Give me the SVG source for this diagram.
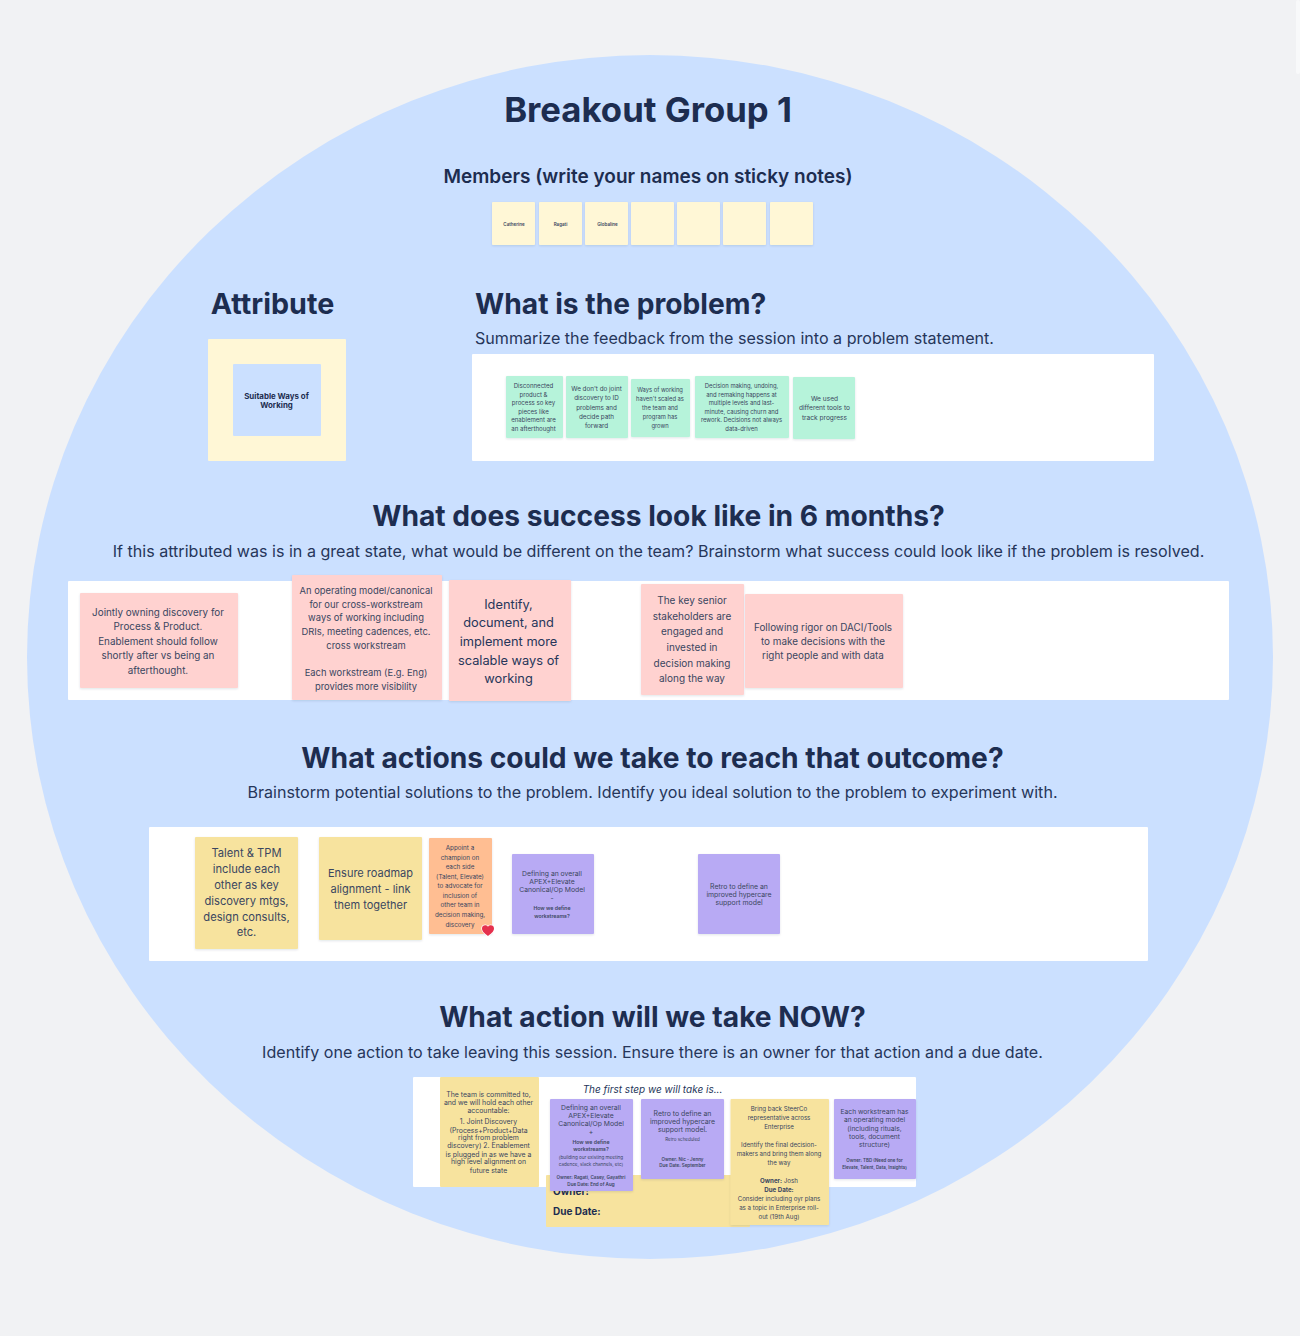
<svg xmlns="http://www.w3.org/2000/svg" width="1300" height="1336" viewBox="0 0 1300 1336">
<defs>
<style>
text{font-family:Inter,"Liberation Sans",sans-serif;fill:#1d2d50;text-anchor:middle}
.h1{font-size:34.7px;font-weight:700}
.h2{font-size:28.2px;font-weight:700}
.h3{font-size:19px;font-weight:600}
.sub{font-size:16.1px;font-weight:400;fill:#26365a}
.panel{fill:#fff;rx:1px}
.note{filter:url(#lift);rx:1px}
.y{fill:#fff7d6}.g{fill:#b6f3da}.r{fill:#ffd2d0}.a{fill:#f7e39e}.o{fill:#ffbe92}.p{fill:#b8aaf4}
.s{fill:#3a4660}
.small{font-size:4.5px;font-weight:600}
</style>
<filter id="lift" x="-5%" y="-5%" width="110%" height="112%"><feDropShadow dx="0" dy="1" stdDeviation="1" flood-color="#1d2d50" flood-opacity="0.12"/></filter>
</defs>
<rect width="1300" height="1336" fill="#f1f2f4"/>
<rect x="1296" y="0" width="4" height="74" rx="2" fill="#f8f9fa"/>
<ellipse id="backdrop" cx="650" cy="657" rx="623" ry="602" fill="#cbe0ff"/>

<g id="title">
<text class="h1" x="648" y="122">Breakout Group 1</text>
<text class="h3" x="648" y="183">Members (write your names on sticky notes)</text>
</g>

<g id="members">
<g id="member-1"><rect class="y note" x="492" y="202" width="43" height="43"/><text class="s small" x="514" y="225.500">Catherine</text></g>
<g id="member-2"><rect class="y note" x="539" y="202" width="43" height="43"/><text class="s small" x="560.500" y="225.500">Ragati</text></g>
<g id="member-3"><rect class="y note" x="585" y="202" width="43" height="43"/><text class="s small" x="607.500" y="225.500">Globaline</text></g>
<g id="member-4"><rect class="y note" x="631" y="202" width="43" height="43"/></g>
<g id="member-5"><rect class="y note" x="677" y="202" width="43" height="43"/></g>
<g id="member-6"><rect class="y note" x="723" y="202" width="43" height="43"/></g>
<g id="member-7"><rect class="y note" x="770" y="202" width="43" height="43"/></g>
</g>

<g id="attribute">
<text class="h2" x="272.500" y="314" style="font-size:28.700px">Attribute</text>
<rect x="208" y="339" width="138" height="122" rx="1" fill="#fff7d6"/>
<rect x="233" y="364" width="88" height="72" rx="1" fill="#cbe0ff"/>
<text x="276.500" y="398.500" style="font-size:7.900px;font-weight:700">Suitable Ways of</text>
<text x="276.500" y="408" style="font-size:7.900px;font-weight:700">Working</text>
</g>

<g id="problem">
<text class="h2" x="475" y="314" style="text-anchor:start">What is the problem?</text>
<text class="sub" x="475" y="344" style="text-anchor:start">Summarize the feedback from the session into a problem statement.</text>
<rect class="panel" x="472" y="354" width="682" height="107"/>
<g id="problem-1"><rect class="g note" x="506" y="376" width="57" height="62"/>
<text class="s" style="font-size:6.100px"><tspan x="533.500" y="387.500">Disconnected</tspan><tspan x="533.500" y="396.500">product &amp;</tspan><tspan x="533.500" y="405">process so key</tspan><tspan x="533.500" y="413.500">pieces like</tspan><tspan x="533.500" y="422">enablement are</tspan><tspan x="533.500" y="430.500">an afterthought</tspan></text></g>
<g id="problem-2"><rect class="g note" x="566" y="376" width="62" height="62"/>
<text class="s" style="font-size:6.300px"><tspan x="596.500" y="390.500">We don't do joint</tspan><tspan x="596.500" y="400">discovery to ID</tspan><tspan x="596.500" y="409.500">problems and</tspan><tspan x="596.500" y="419">decide path</tspan><tspan x="596.500" y="428">forward</tspan></text></g>
<g id="problem-3"><rect class="g note" x="631" y="379" width="59" height="58"/>
<text class="s" style="font-size:5.800px"><tspan x="660" y="392">Ways of working</tspan><tspan x="660" y="401">haven't scaled as</tspan><tspan x="660" y="410">the team and</tspan><tspan x="660" y="419">program has</tspan><tspan x="660" y="428">grown</tspan></text></g>
<g id="problem-4"><rect class="g note" x="695" y="376" width="94" height="62"/>
<text class="s" style="font-size:5.900px"><tspan x="741.500" y="387.500">Decision making, undoing,</tspan><tspan x="741.500" y="396.500">and remaking happens at</tspan><tspan x="741.500" y="405">multiple levels and last-</tspan><tspan x="741.500" y="413.500">minute, causing churn and</tspan><tspan x="741.500" y="422">rework. Decisions not always</tspan><tspan x="741.500" y="430.500">data-driven</tspan></text></g>
<g id="problem-5"><rect class="g note" x="793" y="377" width="62" height="62"/>
<text class="s" style="font-size:6.600px"><tspan x="824.500" y="400.500">We used</tspan><tspan x="824.500" y="410">different tools to</tspan><tspan x="824.500" y="420">track progress</tspan></text></g>
</g>

<g id="success">
<text class="h2" x="658.500" y="526">What does success look like in 6 months?</text>
<text class="sub" x="658.500" y="557">If this attributed was is in a great state, what would be different on the team? Brainstorm what success could look like if the problem is resolved.</text>
<rect class="panel" x="68" y="581" width="1161" height="119"/>
<g id="success-1"><rect class="r note" x="80" y="593" width="158" height="95"/>
<text class="s" style="font-size:9.900px"><tspan x="158" y="616">Jointly owning discovery for</tspan><tspan x="158" y="630">Process &amp; Product.</tspan><tspan x="158" y="645">Enablement should follow</tspan><tspan x="158" y="659">shortly after vs being an</tspan><tspan x="158" y="674">afterthought.</tspan></text></g>
<g id="success-2"><rect class="r note" x="292" y="575" width="150" height="125"/>
<text class="s" style="font-size:9.400px"><tspan x="366" y="594">An operating model/canonical</tspan><tspan x="366" y="608">for our cross-workstream</tspan><tspan x="366" y="621">ways of working including</tspan><tspan x="366" y="635">DRIs, meeting cadences, etc.</tspan><tspan x="366" y="649">cross workstream</tspan><tspan x="366" y="676">Each workstream (E.g. Eng)</tspan><tspan x="366" y="690">provides more visibility</tspan></text></g>
<g id="success-3"><rect class="r note" x="449" y="580" width="122" height="121"/>
<text style="font-size:12.800px;fill:#26365a"><tspan x="508.500" y="609">Identify,</tspan><tspan x="508.500" y="627">document, and</tspan><tspan x="508.500" y="646">implement more</tspan><tspan x="508.500" y="665">scalable ways of</tspan><tspan x="508.500" y="683">working</tspan></text></g>
<g id="success-4"><rect class="r note" x="641" y="584" width="103" height="111"/>
<text class="s" style="font-size:10px"><tspan x="692" y="604">The key senior</tspan><tspan x="692" y="620">stakeholders are</tspan><tspan x="692" y="635">engaged and</tspan><tspan x="692" y="651">invested in</tspan><tspan x="692" y="667">decision making</tspan><tspan x="692" y="682">along the way</tspan></text></g>
<g id="success-5"><rect class="r note" x="745" y="594" width="158" height="94"/>
<text class="s" style="font-size:9.900px"><tspan x="823" y="631">Following rigor on DACI/Tools</tspan><tspan x="823" y="645">to make decisions with the</tspan><tspan x="823" y="659">right people and with data</tspan></text></g>
</g>

<g id="actions">
<text class="h2" x="652.500" y="768">What actions could we take to reach that outcome?</text>
<text class="sub" x="652.500" y="798">Brainstorm potential solutions to the problem. Identify you ideal solution to the problem to experiment with.</text>
<rect class="panel" x="149" y="827" width="999" height="134"/>
<g id="action-1"><rect class="a note" x="195" y="837" width="103" height="112"/>
<text class="s" style="font-size:11.200px"><tspan x="246.500" y="857">Talent &amp; TPM</tspan><tspan x="246.500" y="873">include each</tspan><tspan x="246.500" y="889">other as key</tspan><tspan x="246.500" y="905">discovery mtgs,</tspan><tspan x="246.500" y="921">design consults,</tspan><tspan x="246.500" y="936">etc.</tspan></text></g>
<g id="action-2"><rect class="a note" x="319" y="837" width="103" height="103"/>
<text class="s" style="font-size:11px"><tspan x="370.500" y="877">Ensure roadmap</tspan><tspan x="370.500" y="893">alignment - link</tspan><tspan x="370.500" y="909">them together</tspan></text></g>
<g id="action-3"><rect class="o note" x="429" y="838" width="63" height="96"/>
<text class="s" style="font-size:6.300px"><tspan x="460" y="850">Appoint a</tspan><tspan x="460" y="859.500">champion on</tspan><tspan x="460" y="869">each side</tspan><tspan x="460" y="878.500">(Talent, Elevate)</tspan><tspan x="460" y="888">to advocate for</tspan><tspan x="460" y="897.500">inclusion of</tspan><tspan x="460" y="907">other team in</tspan><tspan x="460" y="917">decision making,</tspan><tspan x="460" y="926.500">discovery</tspan></text>
<path d="M488 936c-2.200-2-6-4-6-7.500c0-3.300 4-4.300 6-1.700c2-2.600 6-1.600 6 1.700c0 3.500-3.800 5.500-6 7.500z" fill="#e5304d" stroke="#fff" stroke-width="1.500" paint-order="stroke"/></g>
<g id="action-4"><rect class="p note" x="512" y="854" width="82" height="80"/>
<text class="s" style="font-size:6.800px"><tspan x="552" y="875.500">Defining an overall</tspan><tspan x="552" y="883.500">APEX+Elevate</tspan><tspan x="552" y="892">Canonical/Op Model</tspan><tspan x="552" y="900.500">-</tspan></text>
<text class="s" style="font-size:5.200px;font-weight:600"><tspan x="552" y="910">How we define</tspan><tspan x="552" y="917.500">workstreams?</tspan></text></g>
<g id="action-5"><rect class="p note" x="698" y="854" width="82" height="80"/>
<text class="s" style="font-size:6.900px"><tspan x="739" y="888.500">Retro to define an</tspan><tspan x="739" y="896.500">improved hypercare</tspan><tspan x="739" y="905">support model</tspan></text></g>
</g>

<g id="now">
<text class="h2" x="652.500" y="1027">What action will we take NOW?</text>
<text class="sub" x="652.500" y="1058">Identify one action to take leaving this session. Ensure there is an owner for that action and a due date.</text>
<rect class="panel" x="413" y="1077" width="503" height="110"/>
<text x="652.500" y="1093" style="font-size:10px;font-style:italic;fill:#26365a">The first step we will take is...</text>
<g id="owner-card"><rect class="a" x="546" y="1175" width="204" height="52" rx="1"/>
<text style="font-size:10px;font-weight:700;text-anchor:start"><tspan x="553" y="1195">Owner:</tspan><tspan x="553" y="1214.500">Due Date:</tspan></text></g>
<g id="commitment"><rect class="a" x="440" y="1077" width="99" height="110" rx="1"/>
<text class="s" style="font-size:6.900px"><tspan x="488.500" y="1096.500">The team is committed to,</tspan><tspan x="488.500" y="1104.500">and we will hold each other</tspan><tspan x="488.500" y="1113">accountable:</tspan><tspan x="488.500" y="1124">1. Joint Discovery</tspan><tspan x="488.500" y="1132.500">(Process+Product+Data</tspan><tspan x="488.500" y="1140">right from problem</tspan><tspan x="488.500" y="1148">discovery)    2. Enablement</tspan><tspan x="488.500" y="1156.500">is plugged in as we have a</tspan><tspan x="488.500" y="1164">high level alignment on</tspan><tspan x="488.500" y="1172.500">future state</tspan></text></g>
<g id="step-1"><rect class="p note" x="550" y="1099" width="83" height="92"/>
<text class="s" style="font-size:6.800px"><tspan x="591" y="1109.500">Defining an overall</tspan><tspan x="591" y="1117.500">APEX+Elevate</tspan><tspan x="591" y="1126">Canonical/Op Model</tspan><tspan x="591" y="1134">+</tspan></text>
<text class="s" style="font-size:5.200px;font-weight:600"><tspan x="591" y="1144">How we define</tspan><tspan x="591" y="1151">workstreams?</tspan></text>
<text class="s" style="font-size:4.600px"><tspan x="591" y="1158.500">(building our existing meeting</tspan><tspan x="591" y="1165.500">cadence, slack channels, etc)</tspan></text>
<text class="s" style="font-size:4.600px;font-weight:600"><tspan x="591" y="1178.500">Owner: Ragati, Casey, Gayathri</tspan><tspan x="591" y="1185.500">Due Date: End of Aug</tspan></text></g>
<g id="step-2"><rect class="p note" x="641" y="1099" width="83" height="80"/>
<text class="s" style="font-size:6.900px"><tspan x="682.500" y="1116">Retro to define an</tspan><tspan x="682.500" y="1124">improved hypercare</tspan><tspan x="682.500" y="1132">support model.</tspan></text>
<text class="s" style="font-size:4.500px"><tspan x="682.500" y="1140.500">Retro scheduled</tspan></text>
<text class="s" style="font-size:4.500px;font-weight:600"><tspan x="682.500" y="1160.500">Owner: Nic - Jenny</tspan><tspan x="682.500" y="1166.500">Due Date: September</tspan></text></g>
<g id="step-3"><rect class="a note" x="730.500" y="1099" width="98.500" height="126"/>
<text class="s" style="font-size:6.150px"><tspan x="779" y="1110.500">Bring back SteerCo</tspan><tspan x="779" y="1119.500">representative across</tspan><tspan x="779" y="1128.500">Enterprise</tspan><tspan x="779" y="1146.500">Identify the final decision-</tspan><tspan x="779" y="1155.500">makers and bring them along</tspan><tspan x="779" y="1164.500">the way</tspan><tspan x="779" y="1182.500"><tspan font-weight="700">Owner:</tspan> Josh</tspan><tspan x="779" y="1191.500" font-weight="700">Due Date:</tspan><tspan x="779" y="1200.500">Consider including oyr plans</tspan><tspan x="779" y="1209.500">as a topic in Enterprise roll-</tspan><tspan x="779" y="1218.500">out (19th Aug)</tspan></text></g>
<g id="step-4"><rect class="p note" x="834" y="1099" width="82" height="80"/>
<text class="s" style="font-size:6.700px"><tspan x="874.500" y="1114">Each workstream has</tspan><tspan x="874.500" y="1122">an operating model</tspan><tspan x="874.500" y="1130.500">(including rituals,</tspan><tspan x="874.500" y="1138.500">tools, document</tspan><tspan x="874.500" y="1146.500">structure)</tspan></text>
<text class="s" style="font-size:4.450px;font-weight:600"><tspan x="874.500" y="1161.500">Owner: TBD (Need one for</tspan><tspan x="874.500" y="1168.500">Elevate, Talent, Data, Insights)</tspan></text></g>
</g>
</svg>
